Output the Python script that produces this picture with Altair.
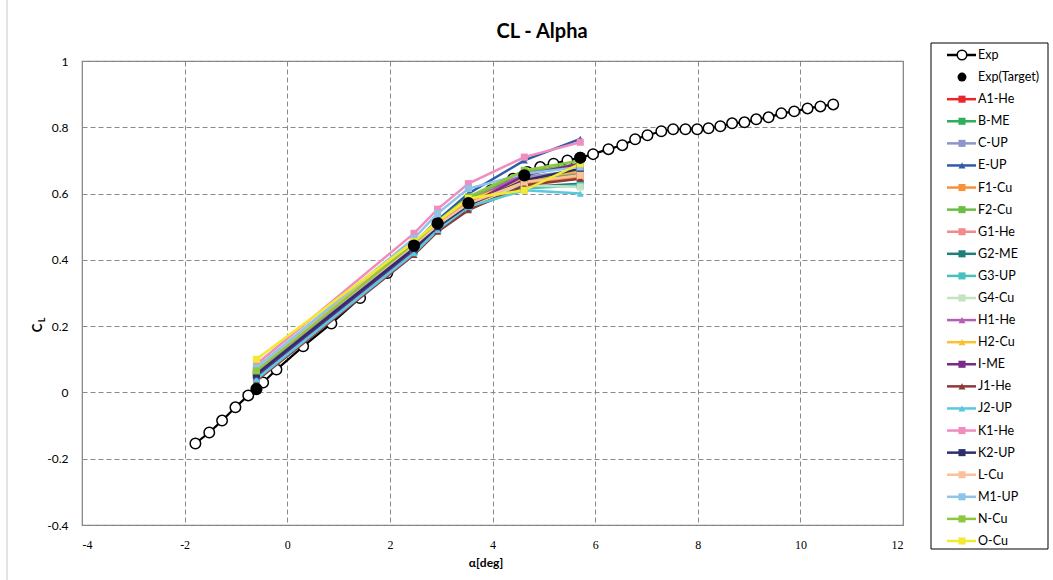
import altair as alt
import pandas as pd

# Wind-tunnel lift curve (open circles)
EXP_ALPHA = [-1.79, -1.52, -1.27, -1.01, -0.76, -0.47, -0.21, 0.31, 0.86, 1.42, 1.95,
             2.47, 2.97, 3.47, 3.97, 4.40, 4.68, 4.93, 5.19, 5.46, 5.71, 5.96, 6.26,
             6.53, 6.78, 7.02, 7.29, 7.52, 7.76, 7.99, 8.21, 8.44, 8.67, 8.91, 9.14,
             9.38, 9.63, 9.88, 10.14, 10.39, 10.64]
EXP_CL = [-0.154, -0.121, -0.085, -0.045, -0.009, 0.030, 0.069, 0.139, 0.208, 0.285, 0.360,
          0.440, 0.510, 0.565, 0.610, 0.645, 0.665, 0.680, 0.690, 0.700, 0.708, 0.719, 0.734,
          0.746, 0.764, 0.776, 0.788, 0.794, 0.794, 0.794, 0.797, 0.803, 0.812, 0.815, 0.824,
          0.830, 0.842, 0.848, 0.857, 0.863, 0.869]

# Target angles of attack and the measured CL there (filled dots)
TARGET_ALPHA = [-0.6, 2.47, 2.93, 3.53, 4.62, 5.71]
TARGET_CL = [0.010, 0.443, 0.510, 0.571, 0.655, 0.708]

# Submitted CFD results, one value per target angle
SERIES_NAMES = ["A1-He", "B-ME", "C-UP", "E-UP", "F1-Cu", "F2-Cu", "G1-He", "G2-ME",
                "G3-UP", "G4-Cu", "H1-He", "H2-Cu", "I-ME", "J1-He", "J2-UP", "K1-He",
                "K2-UP", "L-Cu", "M1-UP", "N-Cu", "O-Cu"]
SERIES_COLORS = ["#e8262b", "#2eaf5c", "#8c96c8", "#2f5ba8", "#f7923a", "#6abd45",
                 "#f28b8b", "#1e8079", "#45c1c0", "#c5e3c0", "#b45fb4", "#fbc02d",
                 "#7b2a8a", "#8e3a3a", "#5bc8dc", "#f08cbe", "#2b2f6b", "#fbc19a",
                 "#8dc4e8", "#8dc63f", "#f2e930"]
SERIES_SHAPES = ["square", "square", "square", "triangle-up", "square", "square",
                 "square", "square", "square", "square", "triangle-up", "triangle-up",
                 "square", "triangle-up", "triangle-up", "square", "square", "square",
                 "square", "square", "square"]
SERIES_CL = {
    "A1-He": [0.060, 0.440, 0.500, 0.570, 0.640, 0.655],
    "B-ME":  [0.055, 0.440, 0.505, 0.575, 0.645, 0.660],
    "C-UP":  [0.060, 0.445, 0.510, 0.580, 0.650, 0.670],
    "E-UP":  [0.070, 0.450, 0.520, 0.600, 0.700, 0.765],
    "F1-Cu": [0.055, 0.435, 0.500, 0.565, 0.630, 0.650],
    "F2-Cu": [0.065, 0.450, 0.515, 0.585, 0.665, 0.690],
    "G1-He": [0.070, 0.445, 0.510, 0.575, 0.645, 0.665],
    "G2-ME": [0.045, 0.425, 0.490, 0.555, 0.620, 0.630],
    "G3-UP": [0.040, 0.425, 0.490, 0.555, 0.615, 0.625],
    "G4-Cu": [0.065, 0.445, 0.510, 0.575, 0.625, 0.620],
    "H1-He": [0.060, 0.440, 0.505, 0.575, 0.660, 0.685],
    "H2-Cu": [0.075, 0.450, 0.515, 0.580, 0.640, 0.670],
    "I-ME":  [0.050, 0.430, 0.495, 0.565, 0.655, 0.690],
    "J1-He": [0.035, 0.415, 0.485, 0.550, 0.625, 0.645],
    "J2-UP": [0.040, 0.420, 0.490, 0.560, 0.610, 0.600],
    "K1-He": [0.085, 0.480, 0.553, 0.630, 0.710, 0.755],
    "K2-UP": [0.055, 0.435, 0.500, 0.565, 0.640, 0.675],
    "L-Cu":  [0.070, 0.445, 0.505, 0.570, 0.635, 0.655],
    "M1-UP": [0.075, 0.465, 0.540, 0.615, 0.660, 0.680],
    "N-Cu":  [0.065, 0.450, 0.515, 0.590, 0.670, 0.700],
    "O-Cu":  [0.100, 0.455, 0.515, 0.585, 0.610, 0.690],
}

X_TICKS = [-4, -2, 0, 2, 4, 6, 8, 10, 12]
Y_TICKS = [-0.4, -0.2, 0, 0.2, 0.4, 0.6, 0.8, 1]

FONT = "Lato"

# ---- tables -------------------------------------------------------------
exp_df = pd.DataFrame({"alpha": EXP_ALPHA, "cl": EXP_CL})
target_df = pd.DataFrame({"alpha": TARGET_ALPHA, "cl": TARGET_CL})
rows = []
for k, name in enumerate(SERIES_NAMES):
    for a, c in zip(TARGET_ALPHA, SERIES_CL[name]):
        rows.append({"name": name, "alpha": a, "cl": c, "k": k})
cfd_df = pd.DataFrame(rows)

LEGEND_NAMES = ["Exp", "Exp(Target)"] + SERIES_NAMES
legend_df = pd.DataFrame({"name": LEGEND_NAMES, "k": list(range(len(LEGEND_NAMES)))})
one = pd.DataFrame({"a": [0]})

color_scale = alt.Scale(domain=LEGEND_NAMES, range=["#000000", "#000000"] + SERIES_COLORS)
shape_scale = alt.Scale(domain=LEGEND_NAMES, range=["circle", "circle"] + SERIES_SHAPES)

x_axis = alt.Axis(values=X_TICKS, title=None, labelExpr="toString(datum.value)",
                  labelFont="Liberation Sans Narrow", labelFontSize=12, labelColor="#000000",
                  labelPadding=14, ticks=False, domain=False,
                  grid=True, gridDash=[5, 3], gridColor="#8a8a8a")
y_axis = alt.Axis(values=Y_TICKS, title=None, labelExpr="toString(datum.value)",
                  labelFont=FONT, labelFontSize=12, labelColor="#000000", labelPadding=14,
                  ticks=False, domain=False,
                  grid=True, gridDash=[5, 3], gridColor="#8a8a8a")
x_enc = alt.X("alpha:Q", scale=alt.Scale(domain=[-4, 12], nice=False, zero=False), axis=x_axis)
y_enc = alt.Y("cl:Q", scale=alt.Scale(domain=[-0.4, 1], nice=False, zero=False), axis=y_axis)

# ---- plot area ------------------------------------------------------------
exp_line = alt.Chart(exp_df).mark_line(color="black", strokeWidth=2.2).encode(x=x_enc, y=y_enc)
exp_pts = alt.Chart(exp_df).mark_point(shape="circle", filled=True, fill="white",
                                       stroke="black", strokeWidth=1.5, size=110,
                                       opacity=1).encode(x=x_enc, y=y_enc)
cfd_lines = alt.Chart(cfd_df).mark_line(strokeWidth=2.5).encode(
    x=x_enc, y=y_enc,
    color=alt.Color("name:N", scale=color_scale, legend=None),
    detail="name:N", order="alpha:Q")
cfd_pts = alt.Chart(cfd_df).mark_point(filled=True, size=50, opacity=1).encode(
    x=x_enc, y=y_enc,
    color=alt.Color("name:N", scale=color_scale, legend=None),
    shape=alt.Shape("name:N", scale=shape_scale, legend=None),
    order="k:Q")
target_pts = alt.Chart(target_df).mark_circle(color="black", size=150, opacity=1).encode(
    x=x_enc, y=y_enc)

title_txt = alt.Chart(one).mark_text(text="CL - Alpha", font=FONT, fontSize=20,
                                     fontWeight="bold", color="#000000",
                                     baseline="middle").encode(
    x=alt.value(460), y=alt.value(-29))
xtitle = alt.Chart(one).mark_text(text="α[deg]", font=FONT, fontSize=12, fontWeight="bold",
                                  baseline="middle").encode(x=alt.value(404), y=alt.value(502))
ytitle_c = alt.Chart(one).mark_text(text="C", font=FONT, fontSize=13, fontWeight="bold",
                                    angle=270, baseline="middle").encode(
    x=alt.value(-44), y=alt.value(267))
ytitle_l = alt.Chart(one).mark_text(text="L", font=FONT, fontSize=9, fontWeight="bold",
                                    angle=270, baseline="middle").encode(
    x=alt.value(-40), y=alt.value(259))
left_edge = alt.Chart(one).mark_rule(color="#c8c8c8", strokeWidth=1).encode(
    x=alt.value(-75), y=alt.value(-61), y2=alt.value(519))

plot = alt.layer(exp_line, exp_pts, cfd_lines, cfd_pts, target_pts,
                 title_txt, xtitle, ytitle_c, ytitle_l, left_edge)

# ---- legend box -----------------------------------------------------------
ly = alt.Y("name:N", scale=alt.Scale(type="point", domain=LEGEND_NAMES,
                                     range=[-6, 480], padding=0), axis=None)
box = alt.Chart(one).mark_rect(fill="white", stroke="#000000", strokeWidth=1).encode(
    x=alt.value(849), x2=alt.value(966), y=alt.value(-18), y2=alt.value(488))
leg_lines = alt.Chart(legend_df).transform_filter(
    "datum.name != 'Exp(Target)'").mark_rule(strokeWidth=2.5).encode(
    x=alt.value(865), x2=alt.value(894), y=ly,
    color=alt.Color("name:N", scale=color_scale, legend=None))
leg_exp = alt.Chart(legend_df).transform_filter("datum.name == 'Exp'").mark_point(
    shape="circle", filled=True, fill="white", stroke="black", strokeWidth=1.5,
    size=90, opacity=1).encode(x=alt.value(880), y=ly)
leg_target = alt.Chart(legend_df).transform_filter("datum.name == 'Exp(Target)'").mark_circle(
    color="black", size=80, opacity=1).encode(x=alt.value(880), y=ly)
leg_pts = alt.Chart(legend_df).transform_filter("datum.k >= 2").mark_point(
    filled=True, size=50, opacity=1).encode(
    x=alt.value(880), y=ly,
    color=alt.Color("name:N", scale=color_scale, legend=None),
    shape=alt.Shape("name:N", scale=shape_scale, legend=None))
leg_text = alt.Chart(legend_df).mark_text(align="left", baseline="middle", font=FONT,
                                          fontSize=12.5, color="#000000").encode(
    x=alt.value(896), y=ly, text="name:N")

legend = alt.layer(box, leg_lines, leg_exp, leg_target, leg_pts, leg_text)

chart = alt.layer(plot, legend).resolve_scale(
    y="independent"
).properties(
    width=821, height=464,
    autosize=alt.AutoSizeParams(type="none"),
    padding={"left": 82, "top": 61, "right": 150, "bottom": 55},
    background="white",
).configure_view(stroke="#7f7f7f", strokeWidth=1.2)

chart.save("out.html", embed_options={"renderer": "svg", "actions": False})
